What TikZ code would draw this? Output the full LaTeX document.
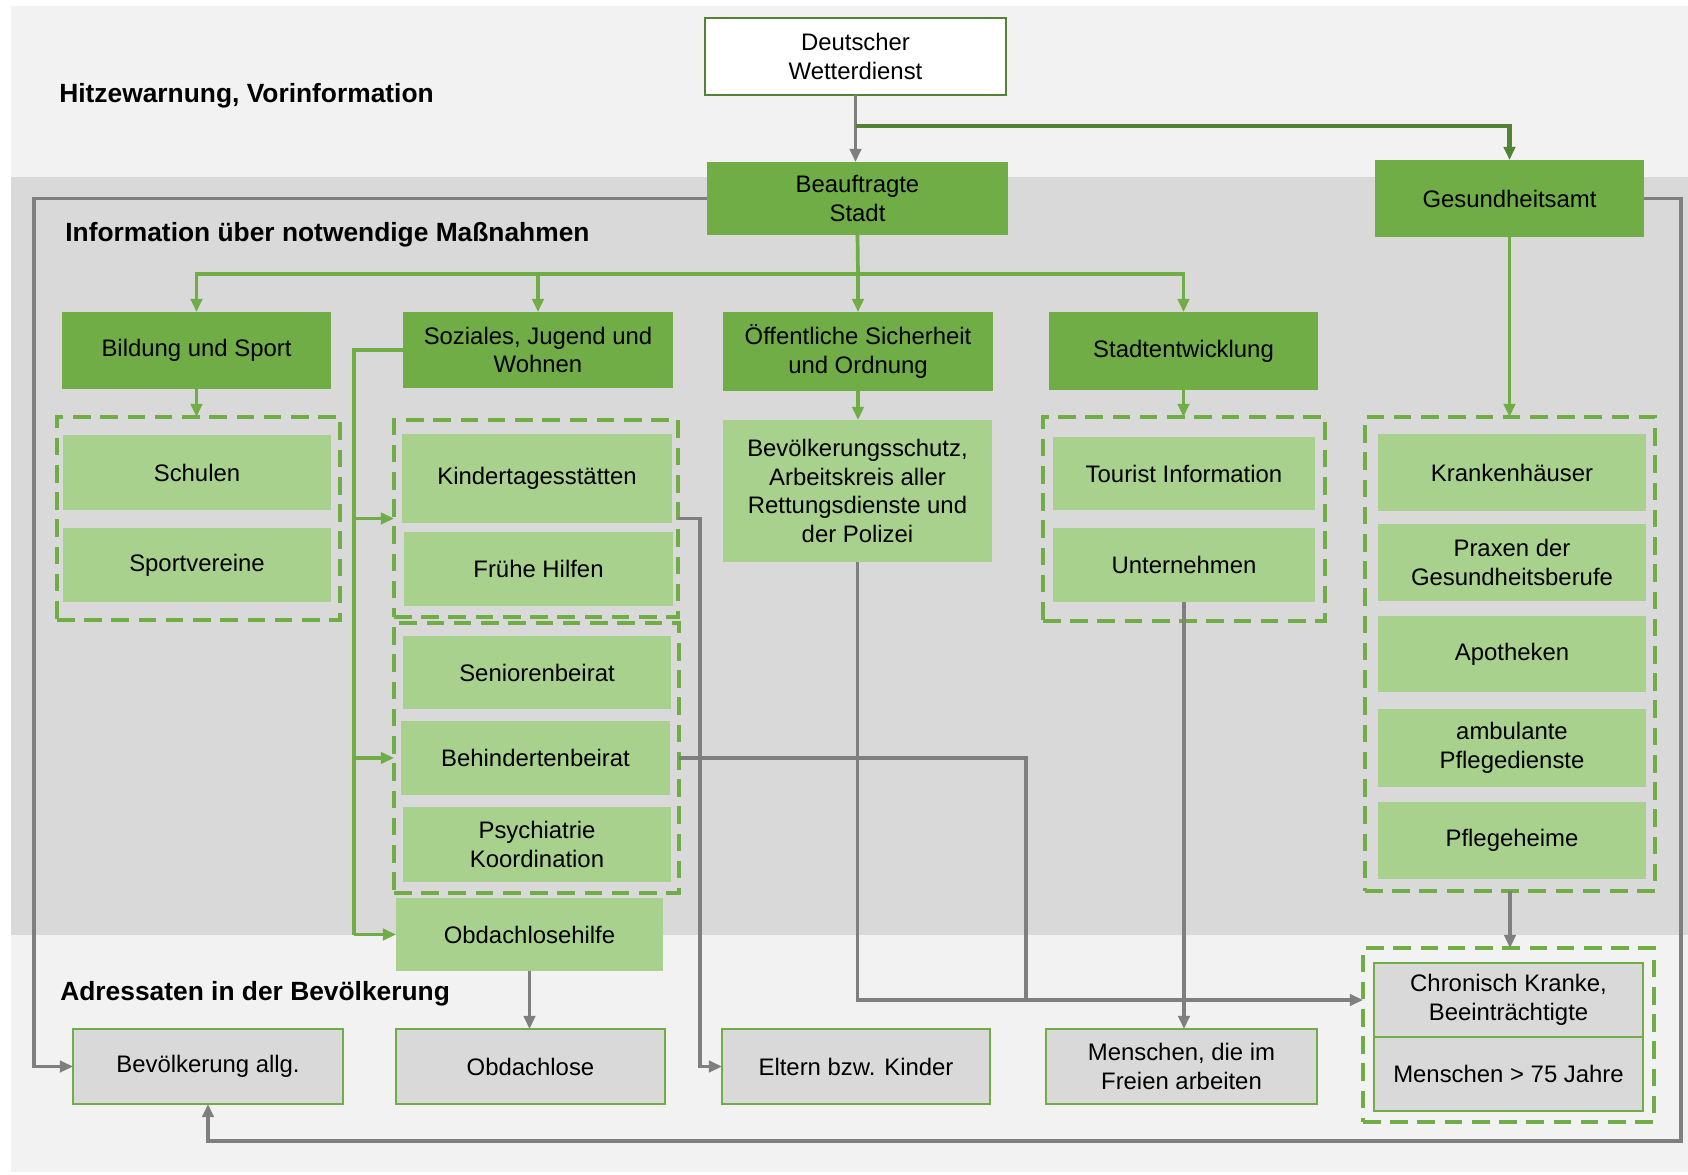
\documentclass[tikz,border=0pt]{standalone}
\usepackage{fontspec}
\setmainfont{Liberation Sans}
\usetikzlibrary{arrows.meta}
\definecolor{dkgreen}{HTML}{70AD47}
\definecolor{ltgreen}{HTML}{A9D18E}
\definecolor{olgreen}{HTML}{548235}
\definecolor{bgA}{HTML}{F2F2F2}
\definecolor{bgB}{HTML}{D9D9D9}
\definecolor{lnGray}{HTML}{7F7F7F}
\newcommand\bx[7]{%
  \pgfmathsetmacro\bxcx{(#3+#5)/2}%
  \pgfmathsetmacro\bxcy{(#4+#6)/2}%
  \pgfmathsetmacro\bxw{(#5-#3)*0.02}%
  \pgfmathsetmacro\bxh{(#6-#4)*0.02}%
  \node[#2, minimum width=\bxw cm, minimum height=\bxh cm] (#1) at (\bxcx,\bxcy) {#7};}
\begin{document}
\begin{tikzpicture}[x=0.02cm,y=-0.02cm,
  base/.style={inner sep=0pt, outer sep=0pt, align=center, font=\fontsize{13.6pt}{16.4pt}\selectfont},
  dkbox/.style={base, fill=dkgreen},
  ltbox/.style={base, fill=ltgreen},
  gybox/.style={base, fill=bgB, draw=dkgreen, line width=1.4pt},
  wbox/.style={base, fill=white, draw=olgreen, line width=1.6pt},
  grp/.style={inner sep=0pt, outer sep=0pt, draw=dkgreen, line width=1.8pt, dash pattern=on 10pt off 5.5pt},
  gl/.style={draw=dkgreen, line width=2.1pt},
  ol/.style={draw=olgreen, line width=2.5pt},
  gyl/.style={draw=lnGray, line width=2pt},
  tip/.style={-{Triangle[length=7.5pt,width=6.5pt]}},
  sec/.style={anchor=west, font=\fontsize{15pt}{18pt}\selectfont\bfseries, inner sep=0pt}
]
\useasboundingbox (0,0) rectangle (1688,1175);
% backgrounds
\fill[white] (0,0) rectangle (1688,1175);
\fill[bgA] (11,6) rectangle (1688,1172);
\fill[bgB] (11,177) rectangle (1688,935);

% section labels
\node[sec] (lab1) at (59,96) {Hitzewarnung, Vorinformation};
\node[sec] (lab2) at (65,235) {Information über notwendige Maßnahmen};
\node[sec] (lab3) at (60,994) {Adressaten in der Bevölkerung};

% dashed groups
\bx{g1}{grp}{57}{417}{340}{620}{}
\bx{g2}{grp}{394}{420}{678}{617}{}
\bx{g3}{grp}{394}{623}{679}{893}{}
\bx{g4}{grp}{1043}{417}{1325}{621}{}
\bx{g5}{grp}{1365}{417}{1655}{891}{}
\bx{g6}{grp}{1363}{948}{1654}{1122}{}

% top
\bx{dwd}{wbox}{705}{18}{1006}{95}{Deutscher\\Wetterdienst}
\bx{stadt}{dkbox}{707}{162}{1008}{235}{Beauftragte\\Stadt}
\bx{gesund}{dkbox}{1375}{160}{1644}{237}{Gesundheitsamt}

% departments
\bx{bild}{dkbox}{62}{312}{331}{389}{Bildung und Sport}
\bx{soz}{dkbox}{403}{312}{673}{388}{Soziales, Jugend und\\Wohnen}
\bx{oeff}{dkbox}{723}{312}{993}{391}{Öffentliche Sicherheit\\und Ordnung}
\bx{stent}{dkbox}{1049}{312}{1318}{390}{Stadtentwicklung}

% light green
\bx{schul}{ltbox}{63}{435}{331}{510}{Schulen}
\bx{sport}{ltbox}{63}{528}{331}{602}{Sportvereine}
\bx{kita}{ltbox}{402}{434}{672}{523}{Kindertagesstätten}
\bx{frueh}{ltbox}{404}{532}{673}{606}{Frühe Hilfen}
\bx{senior}{ltbox}{403}{636}{671}{709}{Seniorenbeirat}
\bx{behind}{ltbox}{401}{721}{670}{795}{Behindertenbeirat}
\bx{psych}{ltbox}{403}{807}{671}{882}{Psychiatrie\\Koordination}
\bx{obh}{ltbox}{396}{898}{663}{971}{Obdachlosehilfe}
\bx{bschutz}{ltbox}{723}{420}{992}{562}{Bevölkerungsschutz,\\Arbeitskreis aller\\Rettungsdienste und\\der Polizei}
\bx{tour}{ltbox}{1053}{437}{1315}{510}{Tourist Information}
\bx{unt}{ltbox}{1053}{528}{1315}{602}{Unternehmen}
\bx{kh}{ltbox}{1378}{434}{1646}{511}{Krankenhäuser}
\bx{praxen}{ltbox}{1378}{524}{1646}{601}{Praxen der\\Gesundheitsberufe}
\bx{apo}{ltbox}{1378}{616}{1646}{692}{Apotheken}
\bx{amb}{ltbox}{1378}{709}{1646}{787}{ambulante\\Pflegedienste}
\bx{pfh}{ltbox}{1378}{802}{1646}{879}{Pflegeheime}

% addressees
\bx{bev}{gybox}{73}{1029}{343}{1104}{Bevölkerung allg.}
\bx{obd}{gybox}{396}{1029}{665}{1104}{Obdachlose}
\bx{eltern}{gybox}{722}{1029}{990}{1104}{Eltern bzw. Kinder}
\bx{mfrei}{gybox}{1046}{1029}{1317}{1104}{Menschen, die im\\Freien arbeiten}
\bx{chron}{gybox}{1374}{963}{1643}{1037}{Chronisch Kranke,\\Beeinträchtigte}
\bx{m75}{gybox}{1374}{1037}{1643}{1111}{Menschen > 75 Jahre}

% helper coordinates
\coordinate (j1) at (856,126);
\coordinate (j2) at (858,274);
\coordinate (xS) at (354,0);
\coordinate (xL) at (34,0);
\coordinate (xR) at (1681,0);
\coordinate (yB) at (0,1141);
\coordinate (xK) at (700,0);
\coordinate (xM) at (1026,0);

% connectors: top
\draw[gyl,tip] (dwd.south) -- (dwd.south |- stadt.north);
\draw[ol,tip,olgreen] (j1) -| (gesund.north);

% green tree from Stadt
\draw[gl] (stadt.south) -- (j2);
\draw[gl,tip] (j2) -| (bild.north);
\draw[gl,tip] (j2) -| (soz.north);
\draw[gl,tip] (j2) -- (j2 |- oeff.north);
\draw[gl,tip] (j2) -| (stent.north);
\draw[gl,tip] (bild.south) -- (bild.south |- g1.north);
\draw[gl,tip] (oeff.south) -- (oeff.south |- bschutz.north);
\draw[gl,tip] (stent.south) -- (stent.south |- g4.north);
\draw[gl,tip] (gesund.south) -- (gesund.south |- g5.north);

% Soziales branch
\draw[gl] (soz.west) -- (soz.west -| xS) -- (xS |- obh.west);
\draw[gl,tip] (xS |- obh.west) -- (obh.west);
\draw[gl,tip] (xS |- g2.west) -- (g2.west);
\draw[gl,tip] (xS |- g3.west) -- (g3.west);

% gray connectors
\draw[gyl,tip] (stadt.west) -- (stadt.west -| xL) |- (bev.west);
\draw[gyl,tip] (gesund.east) -- (gesund.east -| xR) -- (xR |- yB) -- (bev.south |- yB) -- (bev.south);
\draw[gyl,tip] (g2.east) -- (g2.east -| xK) |- (eltern.west);
\draw[gyl] (g3.east) -- (g3.east -| xM) -- (xM |- chron.west);
\draw[gyl,tip] (bschutz.south) |- (g6.west |- chron.west);
\draw[gyl,tip] (unt.south) -- (unt.south |- mfrei.north);
\draw[gyl,tip] (g5.south) -- (g5.south |- g6.north);
\draw[gyl,tip] (obh.south) -- (obh.south |- obd.north);
\end{tikzpicture}
\end{document}
